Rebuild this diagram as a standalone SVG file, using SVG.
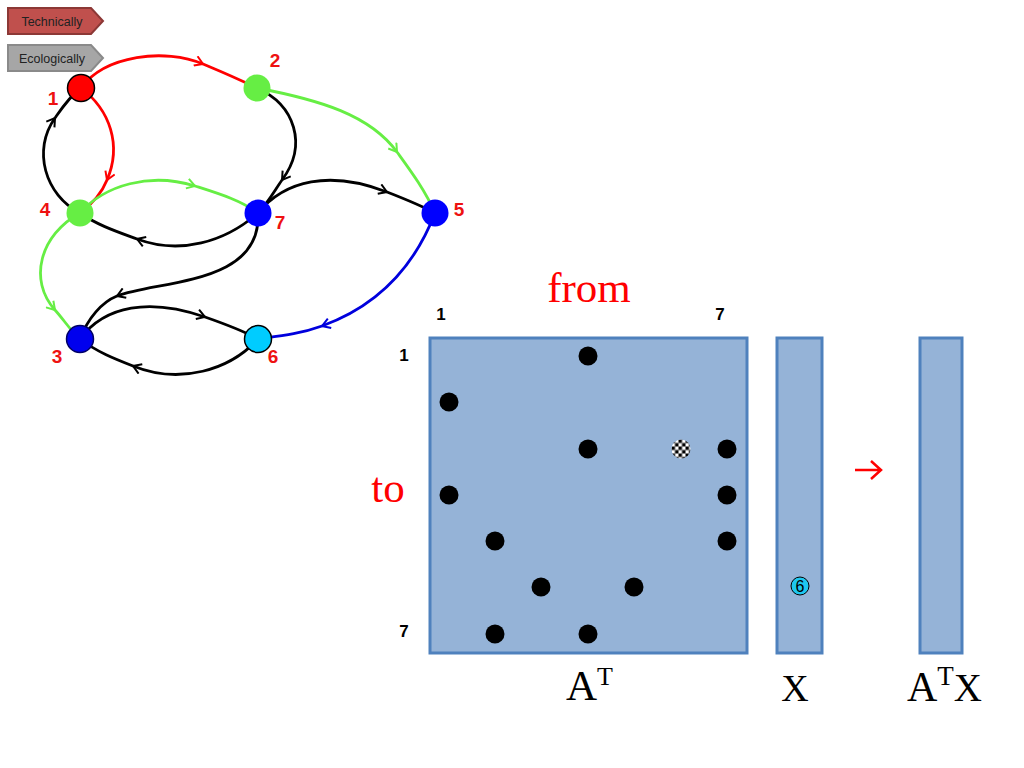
<svg xmlns="http://www.w3.org/2000/svg" width="1024" height="768" viewBox="0 0 1024 768">
<style>
.edge{fill:none;stroke-width:2.8;stroke-linecap:round}
.blk{stroke:#000;marker-mid:url(#ab)}
.red{stroke:#ff0000;marker-mid:url(#ar)}
.grn{stroke:#66ee44;marker-mid:url(#ag)}
.blu{stroke:#0000dd;marker-mid:url(#au)}
.nl{font-family:"Liberation Sans",Arial,sans-serif;font-weight:bold;font-size:19px;fill:#ee1111}
.ix{font-family:"Liberation Sans",Arial,sans-serif;font-weight:bold;font-size:17px;fill:#000}
.ser{font-family:"Liberation Serif","Times New Roman",serif}
.cell{fill:#95b3d7;stroke:#4f81bd;stroke-width:3}
.dot{fill:#000}
.tag{font-family:"Liberation Sans",Arial,sans-serif;font-size:12.5px;fill:#222}
</style>
<defs>
<marker id="ab" markerWidth="12" markerHeight="12" refX="0" refY="0" viewBox="-10 -6 12 12" orient="auto" markerUnits="userSpaceOnUse"><path d="M-8,-5 L0,0 L-8,5" fill="none" stroke="#000" stroke-width="2"/></marker>
<marker id="ar" markerWidth="12" markerHeight="12" refX="0" refY="0" viewBox="-10 -6 12 12" orient="auto" markerUnits="userSpaceOnUse"><path d="M-8,-5 L0,0 L-8,5" fill="none" stroke="#ff0000" stroke-width="2"/></marker>
<marker id="ag" markerWidth="12" markerHeight="12" refX="0" refY="0" viewBox="-10 -6 12 12" orient="auto" markerUnits="userSpaceOnUse"><path d="M-8,-5 L0,0 L-8,5" fill="none" stroke="#66ee44" stroke-width="2"/></marker>
<marker id="au" markerWidth="12" markerHeight="12" refX="0" refY="0" viewBox="-10 -6 12 12" orient="auto" markerUnits="userSpaceOnUse"><path d="M-8,-5 L0,0 L-8,5" fill="none" stroke="#0000dd" stroke-width="2"/></marker>
<pattern id="chk" x="671.5" y="439.5" width="7" height="7" patternUnits="userSpaceOnUse">
<rect width="7" height="7" fill="#fff"/><rect width="3.5" height="3.5" fill="#000"/><rect x="3.5" y="3.5" width="3.5" height="3.5" fill="#000"/>
</pattern>
</defs>
<rect width="1024" height="768" fill="#fff"/>

<g id="tag-technically">
<path d="M8,8 H91 L103,21 L91,34 H8 Z" fill="#c0504d" stroke="#8c3836" stroke-width="2"/>
<text class="tag" x="52" y="25.5" text-anchor="middle">Technically</text>
</g>
<g id="tag-ecologically">
<path d="M8,45 H91 L103,58 L91,71 H8 Z" fill="#a6a6a6" stroke="#8a8a8a" stroke-width="2"/>
<text class="tag" x="52" y="62.5" text-anchor="middle">Ecologically</text>
</g>

<g id="connectors">
<path class="edge red" d="M81,88 C105,55 165,48 203,64 C210,67 230,75 257,88"/>
<path class="edge red" d="M81,88 C110,110 122,145 107,180 C103,190 95,202 80,213"/>
<path class="edge blk" d="M80,213 C45,195 32,150 55,118 C62,108 70,96 81,88"/>
<path class="edge blk" d="M257,88 C295,105 308,145 282,180 C275,190 268,203 258,213"/>
<path class="edge grn" d="M257,88 C320,100 370,115 397,152 C410,170 425,190 435,213"/>
<path class="edge grn" d="M80,213 C105,185 150,172 195,186 C220,194 240,200 258,213"/>
<path class="edge blk" d="M258,213 C225,242 180,255 137,239 C118,232 97,225 80,213"/>
<path class="edge blk" d="M258,213 C285,180 330,170 387,192 C405,199 420,205 435,213"/>
<path class="edge blk" d="M258,213 C262,285 160,280 117,296 C102,302 88,318 80,339"/>
<path class="edge grn" d="M80,213 C40,235 28,280 55,310 C64,320 70,330 80,339"/>
<path class="edge blk" d="M80,339 C105,305 150,298 205,317 C225,324 242,330 258,339"/>
<path class="edge blk" d="M258,339 C230,370 180,385 133,366 C115,359 97,352 80,339"/>
<path class="edge blu" d="M435,213 C415,265 380,305 322,326 C300,334 280,336 258,339"/>
</g>

<g id="node-1"><circle cx="81" cy="88" r="13.5" fill="#ff0000" stroke="#000" stroke-width="1.5"/><text class="nl" x="53" y="105" text-anchor="middle">1</text></g>
<g id="node-2"><circle cx="257" cy="88" r="13.5" fill="#66ee44"/><text class="nl" x="275" y="67" text-anchor="middle">2</text></g>
<g id="node-4"><circle cx="80" cy="213" r="13.5" fill="#66ee44"/><text class="nl" x="45" y="216" text-anchor="middle">4</text></g>
<g id="node-7"><circle cx="258" cy="213" r="13.5" fill="#0000ff"/><text class="nl" x="280" y="229" text-anchor="middle">7</text></g>
<g id="node-5"><circle cx="435" cy="213" r="13.5" fill="#0000ff"/><text class="nl" x="459" y="216" text-anchor="middle">5</text></g>
<g id="node-3"><circle cx="80" cy="339" r="13.5" fill="#0000ee" stroke="#000066" stroke-width="1.5"/><text class="nl" x="57" y="363" text-anchor="middle">3</text></g>
<g id="node-6"><circle cx="258" cy="339" r="13.5" fill="#00ccff" stroke="#000" stroke-width="1.5"/><text class="nl" x="273" y="363" text-anchor="middle">6</text></g>

<g id="matrix-AT">
<rect class="cell" x="430" y="338" width="317" height="315"/>
<text class="ix" x="441" y="320" text-anchor="middle">1</text>
<text class="ix" x="720" y="320" text-anchor="middle">7</text>
<text class="ix" x="404" y="361" text-anchor="middle">1</text>
<text class="ix" x="404" y="637" text-anchor="middle">7</text>
<circle class="dot" cx="588" cy="356" r="9.5"/>
<circle class="dot" cx="449" cy="402" r="9.5"/>
<circle class="dot" cx="588" cy="449" r="9.5"/>
<circle cx="681" cy="449" r="9.5" fill="url(#chk)"/>
<circle class="dot" cx="727" cy="449" r="9.5"/>
<circle class="dot" cx="449" cy="495" r="9.5"/>
<circle class="dot" cx="727" cy="495" r="9.5"/>
<circle class="dot" cx="495" cy="541" r="9.5"/>
<circle class="dot" cx="727" cy="541" r="9.5"/>
<circle class="dot" cx="541" cy="587" r="9.5"/>
<circle class="dot" cx="634" cy="587" r="9.5"/>
<circle class="dot" cx="495" cy="634" r="9.5"/>
<circle class="dot" cx="588" cy="634" r="9.5"/>
<text class="ser" x="589" y="302" text-anchor="middle" font-size="43" fill="#ff0000">from</text>
<text class="ser" x="388" y="502" text-anchor="middle" font-size="43" fill="#ff0000">to</text>
<text class="ser" x="566" y="700" font-size="43" fill="#000">A<tspan font-size="26" dy="-15">T</tspan></text>
</g>

<g id="vector-X">
<rect class="cell" x="777" y="338" width="45" height="315"/>
<circle cx="800" cy="586" r="9" fill="#1ec8f0" stroke="#000" stroke-width="1"/>
<text x="800" y="592" text-anchor="middle" font-family="Liberation Sans, Arial, sans-serif" font-size="16" fill="#000">6</text>
<text class="ser" x="795" y="701" text-anchor="middle" font-size="38" fill="#000">X</text>
</g>

<g id="arrow-red">
<path d="M855,470 H880 M871,461 L881,470 L871,479" fill="none" stroke="#ff0000" stroke-width="2.5"/>
</g>

<g id="vector-ATX">
<rect class="cell" x="920" y="338" width="42" height="315"/>
<text class="ser" x="907" y="701" font-size="42" fill="#000">A<tspan font-size="27" dy="-16">T</tspan><tspan font-size="39" dy="16">X</tspan></text>
</g>
</svg>
